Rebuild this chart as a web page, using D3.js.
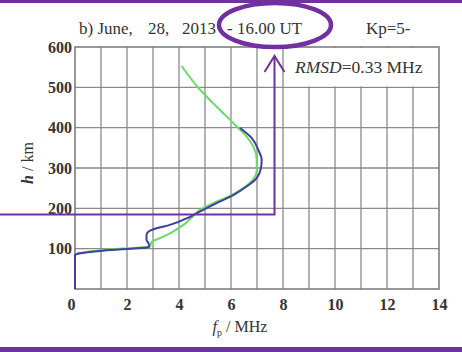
<!DOCTYPE html>
<html><head><meta charset="utf-8">
<script src="https://cdn.jsdelivr.net/npm/d3@7"></script>
<style>body{margin:0;background:#fff}svg{display:block}</style>
</head><body>
<svg id="c" width="462" height="352"></svg>
<script>
const xTicks = [0, 2, 4, 6, 8, 10, 12, 14];
const yTicks = [100, 200, 300, 400, 500, 600];
const blueF = [0, 0, 0.15, 1.09, 2.37, 2.85, 2.83, 2.75, 2.75, 2.82, 3.14, 3.65, 4.42, 4.93, 5.58, 6.09, 6.6, 6.99, 7.15, 7.18, 7.05, 6.8, 6.35];
const blueH = [0, 84, 88, 95, 101, 103.5, 113, 122, 134, 142, 150.6, 159, 179, 196, 217, 233, 254, 275, 299, 320, 345, 374, 399];
const greenF = [0.1, 1.09, 2.37, 2.88, 2.95, 3.27, 3.65, 4.17, 4.5, 4.81, 5.32, 5.96, 6.47, 6.83, 6.99, 6.99, 6.86, 6.6, 6.22, 5.45, 4.81, 4.1];
const greenH = [88, 97, 102.5, 105, 117, 126, 138, 159, 178, 196, 213, 231, 250, 270, 295, 320, 353, 378, 403, 452, 494, 553];

const svg = d3.select("#c");
const L = 75, R = 439, T = 47, B = 289;
const x = d3.scaleLinear().domain([0, 14]).range([L, R]);
const y = d3.scaleLinear().domain([0, 600]).range([B, T]);
const serif = "'Liberation Serif','Times New Roman',serif";
const purple = "#7030a0";
const ink = "#333";

// grid
const g = svg.append("g");
g.selectAll(".vx").data(d3.range(1, 14)).enter().append("line")
  .attr("x1", d => x(d)).attr("x2", d => x(d)).attr("y1", B).attr("y2", T)
  .attr("stroke", "#8a8a8a").attr("stroke-width", 1.3);
g.selectAll(".hy").data(yTicks.slice(0, 5)).enter().append("line")
  .attr("x1", L).attr("x2", R).attr("y1", d => y(d)).attr("y2", d => y(d))
  .attr("stroke", "#8a8a8a").attr("stroke-width", 1.3);

// legend box (white) in top-right region
g.append("rect").attr("x", x(8) + 2).attr("y", y(600) + 1).attr("width", R - x(8) - 3).attr("height", y(500) - y(600) - 2)
  .attr("fill", "#fff");

// border
g.append("rect").attr("x", L).attr("y", T).attr("width", R - L).attr("height", B - T)
  .attr("fill", "none").attr("stroke", "#777").attr("stroke-width", 1.5);

// axes labels
const xa = svg.append("g").attr("transform", `translate(0,${B})`)
  .call(d3.axisBottom(x).tickValues(xTicks).tickSize(0).tickPadding(10).tickFormat(d3.format("d")));
xa.select(".domain").remove();
xa.selectAll("text").attr("font-family", serif).attr("font-size", 16).attr("font-weight", "bold").attr("fill", ink);
xa.selectAll(".tick").filter(d => d === 0).select("text").attr("dx", -4);
const ya = svg.append("g").attr("transform", `translate(${L},0)`)
  .call(d3.axisLeft(y).tickValues(yTicks).tickSize(0).tickPadding(3).tickFormat(d3.format("d")));
ya.select(".domain").remove();
ya.selectAll("text").attr("font-family", serif).attr("font-size", 16).attr("font-weight", "bold").attr("fill", ink);

// curves
const mk = d3.line().x(d => x(d[0])).y(d => y(d[1])).curve(d3.curveMonotoneY);
svg.append("path").datum(greenF.map((f, i) => [f, greenH[i]])).attr("d", mk)
  .attr("fill", "none").attr("stroke", "#66dd66").attr("stroke-width", 2);
svg.append("path").datum(blueF.map((f, i) => [f, blueH[i]])).attr("d", mk)
  .attr("fill", "none").attr("stroke", "#3f3f9f").attr("stroke-width", 2);

// axis titles
const yl = svg.append("text").attr("transform", "translate(33,163) rotate(-90)").attr("text-anchor", "middle")
  .attr("font-family", serif).attr("font-size", 16).attr("fill", ink);
yl.append("tspan").attr("font-style", "italic").attr("font-weight", "bold").text("h");
yl.append("tspan").text(" / km");
const xl = svg.append("text").attr("x", 240).attr("y", 332).attr("text-anchor", "middle")
  .attr("font-family", serif).attr("font-size", 16).attr("fill", ink);
xl.append("tspan").attr("font-style", "italic").text("f");
xl.append("tspan").attr("font-size", 10).attr("dy", 4).text("p");
xl.append("tspan").attr("dy", -4).text(" / MHz");

// title texts
const tt = (tx, px) => svg.append("text").attr("x", px).attr("y", 34).attr("font-family", serif)
  .attr("font-size", 17).attr("fill", ink).text(tx);
tt("b) June,", 79);
tt("28,", 148);
tt("2013", 182);
tt("- 16.00 UT", 227);
tt("Kp=5-", 366);
const rm = svg.append("text").attr("x", 295).attr("y", 73).attr("font-family", serif).attr("font-size", 17.5).attr("fill", ink);
rm.append("tspan").attr("font-style", "italic").text("RMSD");
rm.append("tspan").text("=0.33 MHz");

// purple annotations
svg.append("rect").attr("x", 0).attr("y", 0).attr("width", 462).attr("height", 3).attr("fill", purple);
svg.append("rect").attr("x", 0).attr("y", 347).attr("width", 462).attr("height", 5).attr("fill", purple);
svg.append("ellipse").attr("cx", 275).attr("cy", 25).attr("rx", 56).attr("ry", 22)
  .attr("fill", "none").attr("stroke", purple).attr("stroke-width", 4.5);
svg.append("path").attr("d", "M0,214.5 H274.5 V56").attr("fill", "none").attr("stroke", purple).attr("stroke-width", 2);
svg.append("path").attr("d", "M264.5,72 L274.5,56 L284.5,72").attr("fill", "none").attr("stroke", purple).attr("stroke-width", 2);
</script>
</body></html>
